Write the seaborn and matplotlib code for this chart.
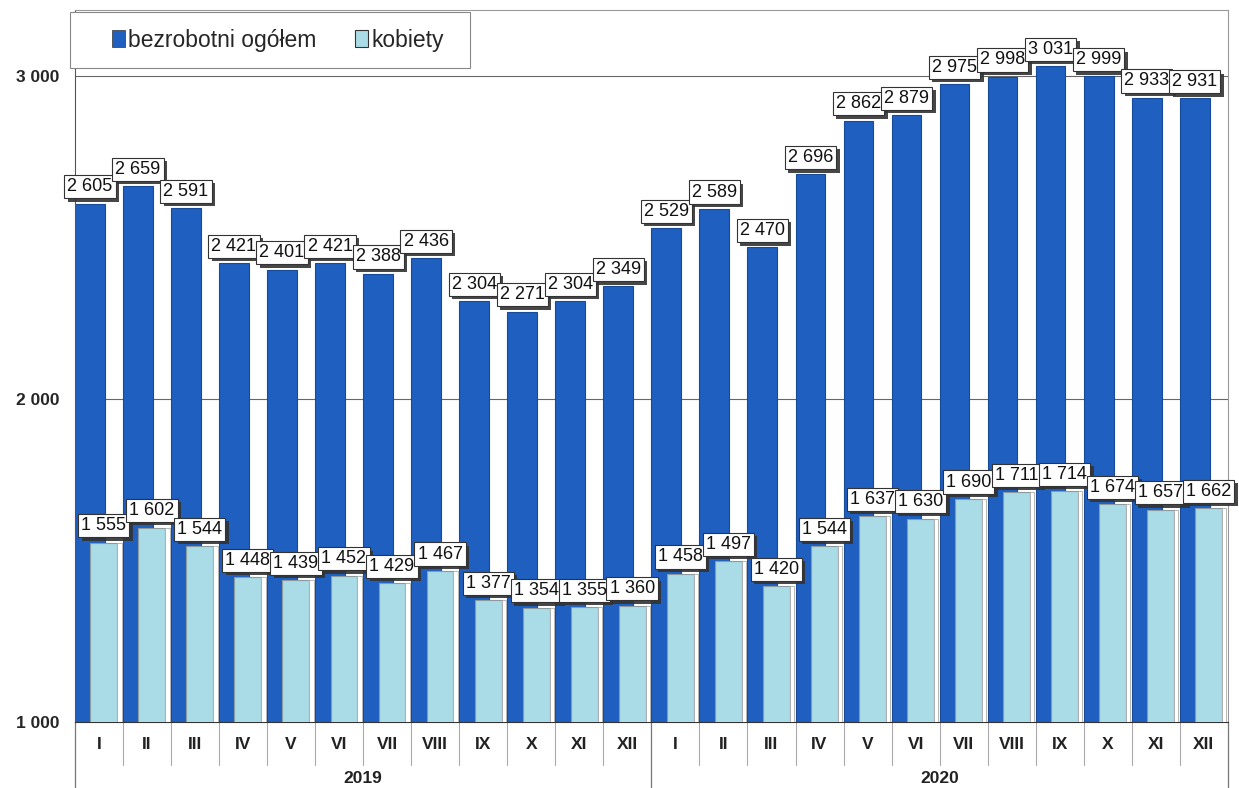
import numpy as np
import pandas as pd
import matplotlib
matplotlib.use('Agg')
import matplotlib.pyplot as plt
import matplotlib.patheffects as pe
from matplotlib.patches import Patch
import seaborn as sns

# Data
months = ['I', 'II', 'III', 'IV', 'V', 'VI', 'VII', 'VIII', 'IX', 'X', 'XI', 'XII']
years = ['2019', '2020']
total_2019 = [2605, 2659, 2591, 2421, 2401, 2421, 2388, 2436, 2304, 2271, 2304, 2349]
women_2019 = [1555, 1602, 1544, 1448, 1439, 1452, 1429, 1467, 1377, 1354, 1355, 1360]
total_2020 = [2529, 2589, 2470, 2696, 2862, 2879, 2975, 2998, 3031, 2999, 2933, 2931]
women_2020 = [1458, 1497, 1420, 1544, 1637, 1630, 1690, 1711, 1714, 1674, 1657, 1662]
series = ['bezrobotni ogółem', 'kobiety']

DARK = '#1F5FBF'
LIGHT = '#A9DCE6'

slots = [f'{m}-{y}' for y in years for m in months]
total = total_2019 + total_2020
women = women_2019 + women_2020
df = pd.DataFrame({
    'slot': slots * 2,
    'value': total + women,
    'series': [series[0]] * len(slots) + [series[1]] * len(slots),
})

sns.set_style('white')
plt.rcParams['font.family'] = ['Liberation Sans', 'DejaVu Sans']

fig = plt.figure(figsize=(12.39, 7.88), dpi=100)
ax = fig.add_axes([0.0605, 0.0838, 0.9305, 0.9032])

sns.barplot(data=df, x='slot', y='value', hue='series', order=slots,
            hue_order=series, palette=[DARK, LIGHT], dodge=True,
            width=0.8, ax=ax, legend=False, saturation=1)

ax.set_ylim(1000, 3204)
ax.set_xlim(-0.5, len(slots) - 0.5)

# reshape bars: dark bar on the left, light bar overlapping on the right
n = len(slots)
bars = ax.patches[:2 * n]
for i, p in enumerate(bars[:n]):
    p.set_x(i - 0.5)
    p.set_width(0.62)
    p.set_edgecolor('#174a99')
    p.set_linewidth(0.8)
    p.set_zorder(2)
for i, p in enumerate(bars[n:]):
    p.set_x(i - 0.5 + 0.32)
    p.set_width(0.56)
    p.set_edgecolor('#8a9a9e')
    p.set_linewidth(0.8)
    p.set_zorder(3)
    # white gap right of light bar
    ax.add_patch(plt.Rectangle((i - 0.5 + 0.88, 1000), 0.09, women[i] - 1000,
                               facecolor='white', edgecolor='#aaaaaa', lw=0.6, zorder=3))

# value labels
def fmt(v):
    return f'{v:,}'.replace(',', ' ')

def boxed(x, y, s):
    t = ax.text(x, y, s, ha='center', va='center', fontsize=13, zorder=6,
                color='#111111',
                bbox=dict(boxstyle='square,pad=0.17', fc='white', ec='#333333', lw=0.8))
    t.get_bbox_patch().set_path_effects(
        [pe.SimplePatchShadow(offset=(2.5, -2.5), shadow_rgbFace='#333333', alpha=0.9), pe.Normal()])

for i, v in enumerate(total):
    boxed(i - 0.5 + 0.31, v + 52, fmt(v))
for i, v in enumerate(women):
    boxed(i - 0.5 + 0.6, v + 53, fmt(v))

# grid and frame
ax.set_yticks([1000, 2000, 3000])
ax.set_yticklabels(['1 000', '2 000', '3 000'], fontsize=12.5, fontweight='bold')
ax.tick_params(axis='y', length=5, width=0.8, color='#555555', pad=6)
ax.yaxis.grid(True, color='#666666', lw=0.8)
ax.set_axisbelow(True)
for s in ax.spines.values():
    s.set_color('#999999')
    s.set_linewidth(0.8)
ax.spines['left'].set_color('#555555')
ax.spines['bottom'].set_color('#333333')
ax.set_xticks([])
ax.set_xlabel('')
ax.set_ylabel('')

# two-level x axis
trans = ax.get_xaxis_transform()
for i, s in enumerate(slots):
    ax.text(i, -0.032, s.split('-')[0], transform=trans, ha='center', va='center',
            fontsize=12.5, fontweight='bold', color='#222222')
for i in range(1, n):
    if i % 12 == 0:
        continue
    ax.plot([i - 0.5, i - 0.5], [0, -0.06], transform=trans, color='#aaaaaa',
            lw=0.8, clip_on=False)
for i in (0, 12, 24):
    ax.plot([i - 0.5, i - 0.5], [0, -0.105], transform=trans, color='#777777',
            lw=0.9, clip_on=False)
for k, y in enumerate(years):
    ax.text(k * 12 + 5.5, -0.08, y, transform=trans, ha='center', va='center',
            fontsize=12.5, fontweight='bold', color='#222222')

# legend: frame drawn separately, entries centred inside
W, H = 1239, 788
frame = plt.Rectangle((70 / W, 1 - 68 / H), 400 / W, 56 / H, transform=fig.transFigure,
                      facecolor='white', edgecolor='#888888', lw=0.8, zorder=9)
fig.patches.append(frame)
handles = [Patch(facecolor=DARK, edgecolor='#333333', lw=0.5),
           Patch(facecolor=LIGHT, edgecolor='#333333', lw=0.8)]
leg = fig.legend(handles, series, loc='center left',
                 bbox_to_anchor=(112 / W, 1 - 40 / H),
                 ncol=2, fontsize=16.5, frameon=False,
                 handlelength=0.55, handleheight=0.7, handletextpad=0.15,
                 columnspacing=1.7, borderpad=0, borderaxespad=0)
leg.set_zorder(10)

fig.savefig('out.png', dpi=100)
